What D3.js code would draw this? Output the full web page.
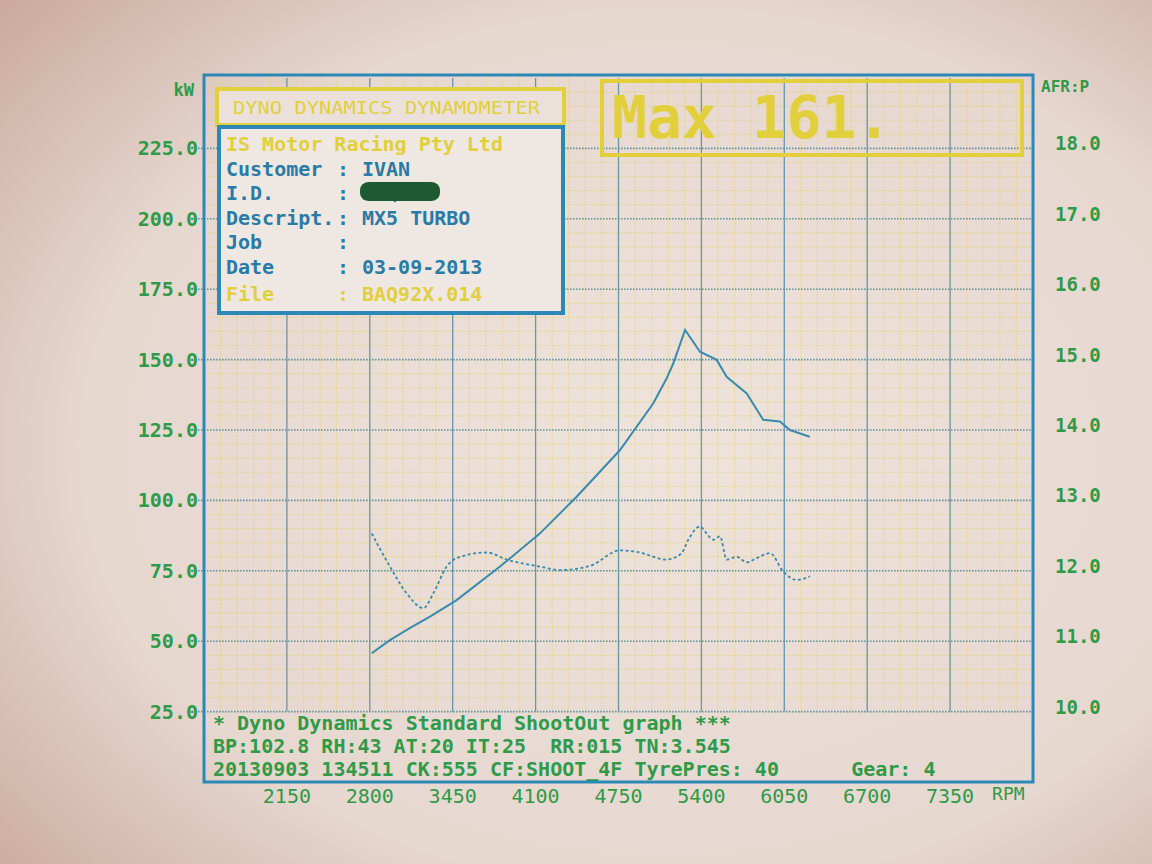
<!DOCTYPE html>
<html>
<head>
<meta charset="utf-8">
<script src="https://cdn.jsdelivr.net/npm/d3@7"></script>
<style>
  body { margin: 0; background: #e4d3cb; }
  svg { display: block; }
  text { font-family: "DejaVu Sans Mono", "Liberation Mono", monospace; }
</style>
</head>
<body>
<div id="dyno"></div>
<script>
// Power curve (solid) - rpm / kW
const powerRpm = [2815, 2958, 3116, 3272, 3481, 3821, 4135, 4422, 4762, 5023, 5128, 5180, 5272, 5389, 5520, 5598, 5755, 5885, 6016, 6094, 6250];
const powerKw  = [45.7, 50.4, 54.7, 58.7, 64.6, 76.5, 88.3, 101.3, 117.9, 134.5, 143.4, 148.7, 160.5, 152.8, 149.9, 143.9, 138.0, 128.6, 128.0, 125.0, 122.6];

// Air fuel ratio (dashed) - rpm / AFR
const afrRpm = [2815, 2958, 3089, 3220, 3298, 3403, 3481, 3717, 3873, 4134, 4291, 4527, 4762, 4893, 5128, 5245, 5297, 5389, 5441, 5493, 5546, 5598, 5677, 5755, 5833, 5938, 6042, 6147, 6251];
const afrVal = [12.53, 12.06, 11.68, 11.47, 11.68, 12.06, 12.18, 12.26, 12.16, 12.06, 12.01, 12.07, 12.29, 12.27, 12.16, 12.25, 12.44, 12.63, 12.53, 12.44, 12.49, 12.16, 12.20, 12.12, 12.18, 12.25, 11.99, 11.87, 11.92];

// Tick labels
const rpmTicks = [2150, 2800, 3450, 4100, 4750, 5400, 6050, 6700, 7350];
const kwTicks  = [25, 50, 75, 100, 125, 150, 175, 200, 225];
const afrTicks = [10, 11, 12, 13, 14, 15, 16, 17, 18];

// Header / footer text
const infoLabels = ["IS Motor Racing Pty Ltd", "Customer", "I.D.", "Descript.", "Job", "Date", "File"];
const infoValues = ["", "IVAN", "BAQ92X", "MX5 TURBO", "", "03-09-2013", "BAQ92X.014"];
const footerLines = [
  "* Dyno Dynamics Standard ShootOut graph ***",
  "BP:102.8 RH:43 AT:20 IT:25  RR:015 TN:3.545",
  "20130903 134511 CK:555 CF:SHOOT_4F TyrePres: 40      Gear: 4"
];

const blue = "#2c88b6", lineBlue = "#3a8aae", green = "#2f9a48",
      yellow = "#e2cf3c", infoBlue = "#2a7aa6";

const margin = { top: 78, right: 119, bottom: 82, left: 204 },
      width = 1152 - margin.left - margin.right,
      height = 864 - margin.top - margin.bottom;

const root = d3.select("#dyno").append("svg")
  .attr("width", 1152)
  .attr("height", 864);

// paper background
const defs = root.append("defs");
const grad = defs.append("radialGradient").attr("id", "paper")
  .attr("cx", "58%").attr("cy", "52%").attr("r", "78%");
grad.append("stop").attr("offset", "0%").attr("stop-color", "#eee4dc");
grad.append("stop").attr("offset", "65%").attr("stop-color", "#e6d7cf");
grad.append("stop").attr("offset", "100%").attr("stop-color", "#caa99b");
root.append("rect").attr("width", 1152).attr("height", 864).attr("fill", "url(#paper)");

const svg = root.append("g")
  .attr("transform", `translate(${margin.left},${margin.top})`);

// scales
const x = d3.scaleLinear().domain([1500, 8000]).range([0, width]);
const y = d3.scaleLinear().domain([0, 250]).range([height, 0]);
const yAfr = d3.scaleLinear().domain([9, 19]).range([height, 0]);

const gridBottom = y(25);

// minor yellow grid
const grid = svg.append("g");
grid.selectAll(".vminor")
  .data(d3.range(1500, 8000, 130))
  .enter().append("line")
  .attr("x1", d => x(d)).attr("x2", d => x(d))
  .attr("y1", 0).attr("y2", gridBottom)
  .attr("stroke", "#e3cf48").attr("stroke-opacity", 0.4).attr("stroke-width", 1.2)
  .attr("stroke-dasharray", "2,1");
grid.selectAll(".hminor")
  .data(d3.range(25, 250, 5))
  .enter().append("line")
  .attr("x1", 0).attr("x2", width)
  .attr("y1", d => y(d)).attr("y2", d => y(d))
  .attr("stroke", "#e3cf48").attr("stroke-opacity", 0.4).attr("stroke-width", 1.2)
  .attr("stroke-dasharray", "2,1");

// major blue grid
grid.selectAll(".vmajor")
  .data(rpmTicks)
  .enter().append("line")
  .attr("x1", d => x(d)).attr("x2", d => x(d))
  .attr("y1", 0).attr("y2", gridBottom)
  .attr("stroke", "#6a96aa").attr("stroke-width", 1.3);
grid.selectAll(".hmajor")
  .data(kwTicks)
  .enter().append("line")
  .attr("x1", -6).attr("x2", width)
  .attr("y1", d => y(d)).attr("y2", d => y(d))
  .attr("stroke", "#5f93ad").attr("stroke-width", 1.6)
  .attr("stroke-dasharray", "1.5,1.5");

// left axis labels (kW)
svg.append("g").selectAll("text")
  .data(kwTicks)
  .enter().append("text")
  .attr("x", -6).attr("y", d => y(d) + 7)
  .attr("text-anchor", "end")
  .attr("font-size", 20).attr("font-weight", "bold")
  .attr("fill", green)
  .text(d => d3.format(".1f")(d));
svg.append("text")
  .attr("x", -10).attr("y", 18)
  .attr("text-anchor", "end")
  .attr("font-size", 17).attr("font-weight", "bold")
  .attr("fill", green).text("kW");

// right axis labels (AFR)
svg.append("g").selectAll("text")
  .data(afrTicks)
  .enter().append("text")
  .attr("x", width + 22).attr("y", d => yAfr(d) + 2)
  .attr("font-size", 19).attr("font-weight", "bold")
  .attr("fill", green)
  .text(d => d3.format(".1f")(d));
svg.append("text")
  .attr("x", width + 8).attr("y", 14)
  .attr("font-size", 16).attr("font-weight", "bold")
  .attr("fill", green).text("AFR:P");

// bottom rpm labels
svg.append("g").selectAll("text")
  .data(rpmTicks)
  .enter().append("text")
  .attr("x", d => x(d)).attr("y", height + 21)
  .attr("text-anchor", "middle")
  .attr("font-size", 20)
  .attr("fill", green)
  .text(d => d);
svg.append("text")
  .attr("x", x(7350) + 42).attr("y", height + 18)
  .attr("font-size", 18)
  .attr("fill", green).text("RPM");

// title box
svg.append("rect")
  .attr("x", 13).attr("y", 11).attr("width", 347).attr("height", 36)
  .attr("fill", "#ebe1da").attr("stroke", yellow).attr("stroke-width", 4);
svg.append("text")
  .attr("x", 29).attr("y", 36)
  .attr("font-size", 18).attr("fill", yellow)
  .attr("textLength", 307).attr("lengthAdjust", "spacingAndGlyphs")
  .text("DYNO DYNAMICS DYNAMOMETER");

// info box
svg.append("rect")
  .attr("x", 15).attr("y", 49).attr("width", 344).attr("height", 186)
  .attr("fill", "#eee7e2").attr("stroke", blue).attr("stroke-width", 4);

const info = svg.append("g")
  .attr("font-size", 20).attr("font-weight", "bold");
infoLabels.forEach((label, i) => {
  const yy = 73 + i * 24.5 + (i === 6 ? 3 : 0);
  const col = (i === 0 || i === 6) ? yellow : infoBlue;
  info.append("text").attr("x", 22).attr("y", yy)
    .attr("fill", col).text(label);
  if (i === 0) return;
  info.append("text").attr("x", 133).attr("y", yy)
    .attr("fill", col).text(":");
  info.append("text").attr("x", 158).attr("y", yy)
    .attr("fill", col).text(infoValues[i]);
});
// redacted I.D.
svg.append("rect")
  .attr("x", 156).attr("y", 104).attr("width", 80).attr("height", 19)
  .attr("rx", 9).attr("ry", 8)
  .attr("fill", "#1d5a32");

// Max box
svg.append("rect")
  .attr("x", 398).attr("y", 3).attr("width", 420).attr("height", 74)
  .attr("fill", "none").attr("stroke", yellow).attr("stroke-width", 4);
svg.append("text")
  .attr("x", 408).attr("y", 60)
  .attr("font-size", 58).attr("font-weight", "bold")
  .attr("fill", yellow).text("Max " + d3.max(powerKw).toFixed(0) + ".");

// footer text
svg.append("g").selectAll("text")
  .data(footerLines)
  .enter().append("text")
  .attr("x", 9).attr("y", (d, i) => gridBottom + 18 + i * 23)
  .attr("font-size", 20).attr("font-weight", "bold")
  .attr("fill", green)
  .attr("xml:space", "preserve")
  .text(d => d);

// power line
const powerData = powerRpm.map((r, i) => ({ rpm: r, v: powerKw[i] }));
svg.append("path")
  .datum(powerData)
  .attr("fill", "none")
  .attr("stroke", lineBlue)
  .attr("stroke-width", 2)
  .attr("d", d3.line().x(d => x(d.rpm)).y(d => y(d.v)));

// AFR line
const afrData = afrRpm.map((r, i) => ({ rpm: r, v: afrVal[i] }));
svg.append("path")
  .datum(afrData)
  .attr("fill", "none")
  .attr("stroke", lineBlue)
  .attr("stroke-width", 1.8)
  .attr("stroke-dasharray", "3,2.5")
  .attr("d", d3.line().curve(d3.curveMonotoneX).x(d => x(d.rpm)).y(d => yAfr(d.v)));

// outer frame
svg.append("rect")
  .attr("x", 0).attr("y", -3).attr("width", width).attr("height", height + 3)
  .attr("fill", "none").attr("stroke", blue).attr("stroke-width", 3);
</script>
</body>
</html>
